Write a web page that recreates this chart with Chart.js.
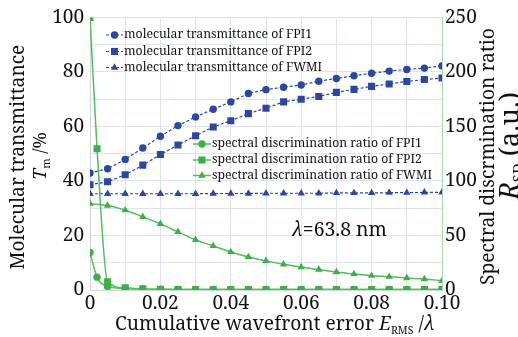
<!DOCTYPE html>
<html>
<head>
<meta charset="utf-8">
<script src="https://cdn.jsdelivr.net/npm/chart.js@4.4.1/dist/chart.umd.min.js"></script>
<style>
  body { margin: 0; background: #fff; }
  #wrap { width: 518px; height: 337px; }
</style>
</head>
<body>
<div id="wrap"><canvas id="chart" width="518" height="337"></canvas></div>
<script>
// x positions (E_RMS / lambda)
const xMain = [0, 0.005, 0.01, 0.015, 0.02, 0.025, 0.03, 0.035, 0.04, 0.045, 0.05,
  0.055, 0.06, 0.065, 0.07, 0.075, 0.08, 0.085, 0.09, 0.095, 0.1];
const xFine = [0, 0.002, 0.005, 0.01, 0.015, 0.02, 0.025, 0.03, 0.035, 0.04, 0.045, 0.05,
  0.055, 0.06, 0.065, 0.07, 0.075, 0.08, 0.085, 0.09, 0.095, 0.1];

// molecular transmittance, %
const tmFPI1 = [42.9, 44.5, 47.9, 52.1, 56.4, 60.3, 63.5, 66.3, 69.0, 72.1, 73.5,
  74.4, 75.2, 76.6, 77.6, 78.6, 79.5, 80.3, 80.9, 81.4, 82.2];
const tmFPI2 = [38.6, 39.7, 42.3, 45.8, 49.7, 53.2, 56.6, 59.8, 62.1, 64.7, 66.7,
  69.0, 70.0, 71.0, 72.5, 73.6, 74.7, 75.6, 76.5, 77.2, 77.8];
const tmFWMI = [35.3, 35.3, 35.3, 35.3, 35.3, 35.3, 35.3, 35.4, 35.4, 35.4, 35.5,
  35.5, 35.5, 35.5, 35.6, 35.6, 35.6, 35.7, 35.7, 35.8, 35.8];

// spectral discrimination ratio (a.u.)
const rsdFPI1 = [34.5, 11.8, 3.3, 1.3, 0.8, 0.6, 0.5, 0.5, 0.5, 0.5, 0.5,
  0.5, 0.5, 0.5, 0.5, 0.5, 0.5, 0.5, 0.5, 0.5, 0.5, 0.5];
const rsdFPI2 = [250, 129.5, 7.6, 2.0, 1.0, 0.6, 0.5, 0.5, 0.5, 0.5, 0.5,
  0.5, 0.5, 0.5, 0.5, 0.5, 0.5, 0.5, 0.5, 0.5, 0.5, 0.5];
const rsdFWMI = [79.2, 77.5, 73.2, 67.1, 60.6, 53.3, 46.0, 40.4, 34.9, 30.3, 26.7,
  23.6, 21.0, 18.7, 16.5, 14.7, 13.1, 12.2, 11.0, 10.1, 8.5];

const legendTop = ['molecular transmittance of FPI1', 'molecular transmittance of FPI2', 'molecular transmittance of FWMI'];
const legendMid = ['spectral discrimination ratio of FPI1', 'spectral discrimination ratio of FPI2', 'spectral discrimination ratio of FWMI'];

const BLUE = '#2c46a6';
const GREEN = '#3fae4a';
const GREEN_LINE = '#52bd5a';
const SERIF = '"Noto Serif", "Liberation Serif", serif';

function pts(xs, ys) {
  return ys.map((y, i) => ({ x: xs[i], y: y }));
}

function markerSize(style) {
  if (style === 'rect') return 5;
  if (style === 'triangle') return 4.3;
  return 3.7;
}
function blueSet(label, xs, ys, style) {
  return {
    label: label, data: pts(xs, ys), yAxisID: 'y',
    borderColor: BLUE, backgroundColor: BLUE, borderWidth: 1.2, borderDash: [3, 2],
    pointStyle: style, pointRadius: markerSize(style),
    pointBorderWidth: 0, tension: 0
  };
}
function greenSet(label, xs, ys, style) {
  return {
    label: label, data: pts(xs, ys), yAxisID: 'y1',
    borderColor: GREEN_LINE, backgroundColor: GREEN, pointBorderColor: GREEN, borderWidth: 1.5,
    pointStyle: style, pointRadius: markerSize(style),
    pointBorderWidth: 0, cubicInterpolationMode: 'monotone'
  };
}

const datasets = [
  blueSet(legendTop[0], xMain, tmFPI1, 'circle'),
  blueSet(legendTop[1], xMain, tmFPI2, 'rect'),
  blueSet(legendTop[2], xMain, tmFWMI, 'triangle'),
  greenSet(legendMid[0], xFine, rsdFPI1, 'circle'),
  greenSet(legendMid[1], xFine, rsdFPI2, 'rect'),
  greenSet(legendMid[2], xMain, rsdFWMI, 'triangle')
];

// text made of runs (italic, subscripts); sizes are relative and scaled so the
// whole line is `width` px wide, centred on (x, y)
function fontOf(p, k) {
  return (p.it ? 'italic ' : '') + (p.s * k).toFixed(2) + 'px ' + SERIF;
}
function richText(ctx, parts, x, y, width) {
  let w = 0;
  parts.forEach(p => { ctx.font = fontOf(p, 1); w += ctx.measureText(p.t).width; });
  const k = width / w;
  let cx = x - width / 2;
  ctx.textAlign = 'left';
  ctx.textBaseline = 'middle';
  parts.forEach(p => {
    ctx.font = fontOf(p, k);
    ctx.fillText(p.t, cx, y + (p.dy || 0) * k);
    cx += ctx.measureText(p.t).width;
  });
}
function rotText(ctx, parts, x, y, width) {
  ctx.save();
  ctx.translate(x, y);
  ctx.rotate(-Math.PI / 2);
  richText(ctx, parts, 0, 0, width);
  ctx.restore();
}

const decorPlugin = {
  id: 'decor',
  afterDraw(chart) {
    const ctx = chart.ctx;
    ctx.save();
    ctx.fillStyle = '#111';
    // axis titles
    rotText(ctx, [{ t: 'Molecular transmittance', s: 20 }], 19, 157, 225);
    rotText(ctx, [{ t: 'T', s: 20, it: 1 }, { t: 'm', s: 12, dy: 6 }, { t: ' /%', s: 20 }], 41, 156, 48);
    rotText(ctx, [{ t: 'Spectral discrmination ratio', s: 20 }], 489, 156.5, 257);
    rotText(ctx, [{ t: 'R', s: 20, it: 1 }, { t: 'SD', s: 11, dy: 6 }, { t: ' (a.u.)', s: 20 }], 511, 146, 108);
    richText(ctx, [{ t: 'Cumulative wavefront error ', s: 20 }, { t: 'E', s: 20, it: 1 },
      { t: 'RMS', s: 11, dy: 6 }, { t: ' /', s: 20 }, { t: 'λ', s: 20, it: 1 }], 275, 325, 320);
    richText(ctx, [{ t: 'λ', s: 20, it: 1 }, { t: '=63.8 nm', s: 20 }], 339.5, 230, 95);

    // two legends
    const drawLegend = (idxs, x0, x1, ys, textW) => {
      ctx.font = '20px ' + SERIF;
      const fs = 20 * textW / ctx.measureText(chart.data.datasets[idxs[0]].label).width;
      idxs.forEach((di, k) => {
        const ds = chart.data.datasets[di];
        const y = ys[k];
        ctx.save();
        ctx.strokeStyle = ds.borderColor;
        ctx.lineWidth = ds.borderWidth;
        ctx.setLineDash(ds.borderDash || []);
        ctx.beginPath();
        ctx.moveTo(x0, y);
        ctx.lineTo(x1, y);
        ctx.stroke();
        ctx.setLineDash([]);
        ctx.fillStyle = ds.backgroundColor;
        ctx.strokeStyle = ds.backgroundColor;
        Chart.helpers.drawPoint(ctx, { pointStyle: ds.pointStyle, radius: ds.pointRadius, rotation: 0, borderWidth: 0 }, (x0 + x1) / 2, y);
        ctx.restore();
        ctx.fillStyle = '#111';
        ctx.font = fs.toFixed(2) + 'px ' + SERIF;
        ctx.textAlign = 'left';
        ctx.textBaseline = 'middle';
        ctx.fillText(ds.label, x1 + 1, y);
      });
    };
    drawLegend([0, 1, 2], 106, 123, [35, 51.5, 67.5], 188);
    drawLegend([3, 4, 5], 193, 211, [144, 160, 175.5], 210);
    ctx.restore();
  }
};

const tickFont = { family: SERIF, size: 19 };

const config = {
  type: 'line',
  data: { datasets: datasets },
  options: {
    responsive: false,
    animation: false,
    layout: { padding: { top: 17, left: 0, right: 0, bottom: 0 } },
    plugins: { legend: { display: false }, tooltip: { enabled: false } },
    scales: {
      x: {
        type: 'linear', min: 0, max: 0.1,
        afterFit: s => { s.height = 47; },
        grid: { color: '#dde4ef', drawTicks: false },
        border: { color: '#cfd6e2' },
        ticks: {
          stepSize: 0.01, autoSkip: false, maxRotation: 0, padding: 2,
          color: '#111', font: tickFont,
          callback: v => {
            const k = Math.round(v * 100);
            if (k % 2 !== 0) return '';
            return k === 0 ? '0' : (k / 100).toFixed(2);
          }
        }
      },
      y: {
        type: 'linear', position: 'left', min: 0, max: 100,
        afterFit: s => { s.width = 90; },
        grid: { color: '#dde4ef', drawTicks: false },
        border: { color: '#cfd6e2' },
        ticks: {
          stepSize: 10, padding: 6, color: '#111', font: tickFont,
          callback: v => (Math.round(v) % 20 === 0 ? String(Math.round(v)) : '')
        }
      },
      y1: {
        type: 'linear', position: 'right', min: 0, max: 250,
        afterFit: s => { s.width = 76; },
        grid: { drawOnChartArea: false, drawTicks: false },
        border: { color: '#a9dcab' },
        ticks: { stepSize: 50, padding: 3, color: '#111', font: tickFont }
      }
    }
  },
  plugins: [decorPlugin]
};

const ctx = document.getElementById('chart').getContext('2d');
const myChart = new Chart(ctx, config);
</script>
</body>
</html>
